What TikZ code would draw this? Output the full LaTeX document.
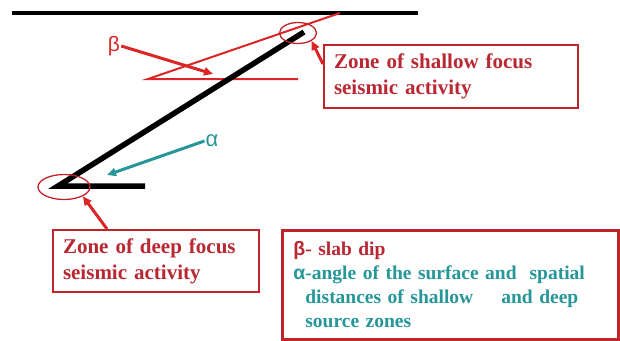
\documentclass[tikz,border=0pt]{standalone}
\usepackage{fontspec}
\setmainfont{Liberation Serif}
\newfontfamily\greekfont{Liberation Sans}
\usetikzlibrary{
  arrows.meta,
  positioning,
  shapes.geometric,
  calc
}
\definecolor{zonered}{RGB}{218,38,38}
\definecolor{boxred}{RGB}{190,36,42}
\definecolor{textred}{RGB}{185,40,50}
\definecolor{seateal}{RGB}{38,150,152}

\begin{document}
\begin{tikzpicture}[x=1pt, y=-1pt,
  zonebox/.style={draw=boxred, line width=2pt, fill=white, align=left, inner xsep=10pt,
    text=textred, font=\bfseries\fontsize{21}{26}\selectfont},
  zonering/.style={draw=boxred, ellipse, line width=1.3pt, inner sep=0pt},
  pointer/.style={-{Triangle[length=9pt,width=8pt]}, line width=3pt, zonered}]
  \useasboundingbox (0,0) rectangle (620,340);

  % surface and slab
  \coordinate (surfL) at (12,13);
  \coordinate (surfR) at (418,13);
  \draw[line width=3.5pt] (surfL) -- (surfR);

  \coordinate (dipfar) at (340,13);
  \coordinate (dipvertex) at (148,79);
  \coordinate (dipflat) at (298,79);
  \draw[zonered, line width=2pt] (dipfar) -- (dipvertex) -- (dipflat);

  \coordinate (slabtop) at (304,32);
  \coordinate (slabbot) at (58,186);
  \coordinate (slabend) at (145,186);
  \draw[line width=5.5pt, line join=miter] (slabtop) -- (slabbot) -- (slabend);

  % focus zones
  \node[zonering, minimum width=37, minimum height=21] (shallowring) at (298,33) {};
  \node[zonering, minimum width=52, minimum height=25] (deepring) at (64,187) {};

  % angle labels
  \node[text=zonered, font=\greekfont\fontsize{21}{21}\selectfont, inner sep=1pt] (betalbl) at (114,46) {β};
  \coordinate (betatip) at (213,74);
  \draw[pointer] (betalbl.east) -- (betatip);

  \node[text=seateal, font=\greekfont\fontsize{22}{22}\selectfont, inner sep=1pt] (alphalbl) at (212,141) {α};
  \coordinate (alphatip) at (107,175);
  \draw[pointer, seateal] (alphalbl.west) -- (alphatip);

  % boxes
  \node[zonebox, anchor=north west, text width=234pt, minimum height=63pt] (shallowbox) at (323,44)
    {Zone of shallow focus\\seismic activity};
  \node[zonebox, anchor=north west, text width=186pt, minimum height=62pt] (deepbox) at (52,229)
    {Zone of deep focus\\seismic activity};

  \coordinate (shallowfoot) at (323,64);
  \draw[pointer] (shallowfoot) -- (shallowring.south east);
  \coordinate (deepfoot) at (107,229);
  \draw[pointer] (deepfoot) -- (deepring.south east);

  \node[zonebox, draw=boxred, line width=2.8pt, anchor=north west, text width=314pt, minimum height=109pt,
    inner xsep=11pt, text=seateal, font=\bfseries\fontsize{19.5}{24}\selectfont] (legend) at (281,229)
    {\textcolor{textred}{{\greekfont β}- slab dip}\\
     {\greekfont α}-angle of the surface and~~spatial\\
     \hspace*{12pt}distances of shallow\hspace*{28pt}and deep\\
     \hspace*{12pt}source zones};
\end{tikzpicture}
\end{document}
